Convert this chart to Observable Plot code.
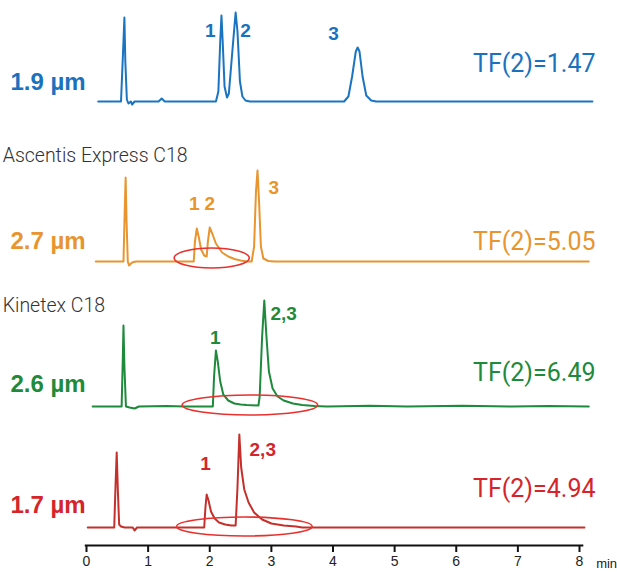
<!DOCTYPE html>
<html><head><meta charset="utf-8">
<script src="https://cdn.jsdelivr.net/npm/d3@7"></script>
<script src="https://cdn.jsdelivr.net/npm/@observablehq/plot@0.6"></script>
<style>
body{margin:0;background:#fff}
svg{overflow:visible}
g[aria-label*="x-axis"], g[aria-label*="x-axis"] text{font-size:14px !important; fill:#222}
g[aria-label*="x-axis"] line, g[aria-label*="x-axis"] path{stroke:#111; stroke-width:2px}
</style>
</head><body><div id="chart"></div>
<script>
// ---- data (time in min, signal in arbitrary units) ----
const traceIds = ["1.9 µm", "2.7 µm", "2.6 µm", "1.7 µm"];
const traceColors = ["#1b74bf", "#e8952f", "#1e8a3c", "#c4302b"];
const textColors = ["#1a72bf", "#e8952f", "#1e8a3c", "#d6242b"];
const traceBaselines = [444, 284, 139, 18];
const tfLabels = ["TF(2)=1.47", "TF(2)=5.05", "TF(2)=6.49", "TF(2)=4.94"];
const columnNames = ["", "Ascentis Express C18", "Kinetex C18", ""];
const xTicks = [0, 1, 2, 3, 4, 5, 6, 7, 8];
const xUnit = "min";

const trace19 = [[0.19,0],[0.56,0],[0.60,60],[0.615,84],[0.63,40],[0.655,2],[0.68,-2],[0.72,0],[0.74,-3],[0.78,0],
  [1.17,0],[1.22,3],[1.27,0],[2.10,0],[2.14,10],[2.17,60],[2.19,86],[2.21,60],[2.24,15],[2.28,4],
  [2.31,8],[2.38,60],[2.42,89],[2.45,70],[2.49,20],[2.53,5],[2.58,1],[2.65,0],
  [4.18,0],[4.25,5],[4.31,25],[4.37,50],[4.40,54],[4.43,50],[4.48,25],[4.54,6],[4.62,1],[4.70,0],[8.21,0]];
const trace27 = [[0.15,0],[0.60,0],[0.62,50],[0.635,84],[0.65,40],[0.67,0],[0.69,-4],[0.74,-1],[0.80,0],
  [1.74,0],[1.76,20],[1.79,33],[1.82,25],[1.86,12],[1.91,6],[1.95,5],[1.97,20],[2.00,34],[2.04,28],[2.10,18],
  [2.20,9],[2.30,5],[2.40,2.5],[2.50,1],[2.60,0],[2.68,0],[2.72,15],[2.75,70],[2.775,91],[2.80,60],[2.83,15],
  [2.87,3],[2.95,0.5],[3.05,0],[8.15,0]];
const trace26 = [[0.10,0],[0.57,0],[0.59,50],[0.60,81],[0.615,40],[0.64,0],[0.70,-1],[0.78,-2],[0.85,0],
  [1.30,0.5],[1.60,0],[2.05,0],[2.07,30],[2.10,56],[2.13,45],[2.17,25],[2.22,12],[2.30,6],[2.40,3],[2.50,2],
  [2.60,1.5],[2.79,1],[2.81,10],[2.85,70],[2.885,106],[2.92,70],[2.96,35],[3.02,18],[3.10,10],[3.20,6],
  [3.35,3],[3.50,1.5],[3.70,0.5],[3.90,0],[4.6,0.8],[5.2,0],[6.1,0.7],[6.9,0],[7.5,0.6],[8.15,0]];
const trace17 = [[0.02,0],[0.45,0],[0.47,40],[0.49,75],[0.51,35],[0.53,3],[0.56,1],[0.62,0],[0.75,0],[0.78,-3],[0.82,0],
  [1.91,0],[1.93,20],[1.95,33],[1.98,27],[2.02,16],[2.08,9],[2.15,5],[2.25,3],[2.35,2],[2.42,2],
  [2.45,40],[2.48,93],[2.51,60],[2.56,38],[2.63,25],[2.72,15],[2.85,8],[3.00,4],[3.20,2],[3.40,1],[3.50,0],[8.08,0]];
const traces = [trace19, trace27, trace26, trace17];

// peak labels: trace index, text, time, signal level
const peakTrace = [0, 0, 0, 1, 1, 1, 2, 2, 3, 3];
const peakText  = ["1", "2", "3", "1", "2", "3", "1", "2,3", "1", "2,3"];
const peakTime  = [2.01, 2.58, 4.01, 1.75, 2.0, 3.04, 2.09, 3.2, 1.93, 2.86];
const peakLevel = [71, 71, 68, 58, 58, 74, 69, 93, 64, 78];

// highlighted tailing regions (ellipses): trace, centre time, centre level, half-width (min), half-height
const ringTrace = [1, 2, 3];
const ringTime = [2.04, 2.66, 2.57];
const ringLevel = [3, 1, 0.5];
const ringRx = [0.61, 1.10, 1.10];
const ringRy = [10, 10, 9.5];

// ---- build tables ----
const lineData = traces.flatMap((tr, i) => tr.map(([t, s]) => ({trace: traceIds[i], t, v: traceBaselines[i] + s})));
const peakData = peakText.map((txt, k) => ({trace: traceIds[peakTrace[k]], text: txt, t: peakTime[k], v: traceBaselines[peakTrace[k]] + peakLevel[k]}));
const sizeLevel = [19, 20, 22, 22];
const tfLevel = [38, 20, 34, 39];
const sizeData = traceIds.map((id, i) => ({trace: id, text: id, t: -1.234, v: traceBaselines[i] + sizeLevel[i]}));
const tfData = traceIds.map((id, i) => ({trace: id, text: tfLabels[i], t: 8.26, v: traceBaselines[i] + tfLevel[i]}));
const nameLevel = [0, 106, 101, 0];
const nameData = columnNames.map((n, i) => ({text: n, t: -1.36, v: traceBaselines[i] + nameLevel[i]})).filter(d => d.text);

const color = {domain: traceIds, range: traceColors};
const textColor = d => textColors[traceIds.indexOf(d.trace)];

const axisMarks = Plot.axisX
  ? [Plot.axisX({ticks: xTicks, tickSize: 7, tickPadding: 4, label: null, tickFormat: d3.format("d"), fontSize: 14, stroke: "#111", strokeWidth: 2, fill: "#222"})]
  : [];

const plot = Plot.plot({
  width: 617, height: 572,
  marginLeft: 86, marginRight: 38, marginTop: 0, marginBottom: 27,
  style: {fontFamily: "'Liberation Sans', Arial, sans-serif", background: "#fff", overflow: "visible"},
  x: {domain: [0, 8], ticks: xTicks, tickSize: 7, tickPadding: 4, label: null, tickFormat: d3.format("d")},
  y: {domain: [0, 545], axis: null},
  color,
  marks: [
    ...axisMarks,
    Plot.ruleY([0], {x1: -0.02, x2: 8.07, stroke: "#111", strokeWidth: 2}),
    Plot.line(lineData, {x: "t", y: "v", z: "trace", stroke: "trace", strokeWidth: 2, curve: "linear"}),
    Plot.text(peakData, {x: "t", y: "v", text: "text", fill: textColor, fontSize: 19, fontWeight: "bold"}),
    Plot.text(sizeData, {x: "t", y: "v", text: "text", fill: textColor, fontSize: 24, fontWeight: "bold", textAnchor: "start"}),
    Plot.text(tfData, {x: "t", y: "v", text: "text", fill: textColor, fontSize: 25, textAnchor: "end", fontFamily: "Roboto", fontWeight: 400}),
    Plot.text(nameData, {x: "t", y: "v", text: "text", fill: "#333", fontSize: 19.5, textAnchor: "start", fontFamily: "Roboto", fontWeight: 300}),
    Plot.text([xUnit], {x: 8.27, y: -18, text: d => d, fill: "#222", fontSize: 13, textAnchor: "start"})
  ]
});

// ellipses drawn through the plot's own scales
const sx = plot.scale("x"), sy = plot.scale("y");
const svg = d3.select(plot.tagName.toLowerCase() === "svg" ? plot : plot.querySelector("svg"));
ringTrace.forEach((ti, k) => {
  const cx = sx.apply(ringTime[k]);
  const rx = sx.apply(ringTime[k] + ringRx[k]) - cx;
  const cy = sy.apply(traceBaselines[ti] + ringLevel[k]);
  const ry = Math.abs(sy.apply(traceBaselines[ti] + ringLevel[k] + ringRy[k]) - cy);
  svg.append("ellipse").attr("cx", cx).attr("cy", cy).attr("rx", rx).attr("ry", ry)
    .attr("fill", "none").attr("stroke", "#e8312e").attr("stroke-width", 1.6);
});
document.getElementById("chart").appendChild(plot);
</script>
</body></html>
